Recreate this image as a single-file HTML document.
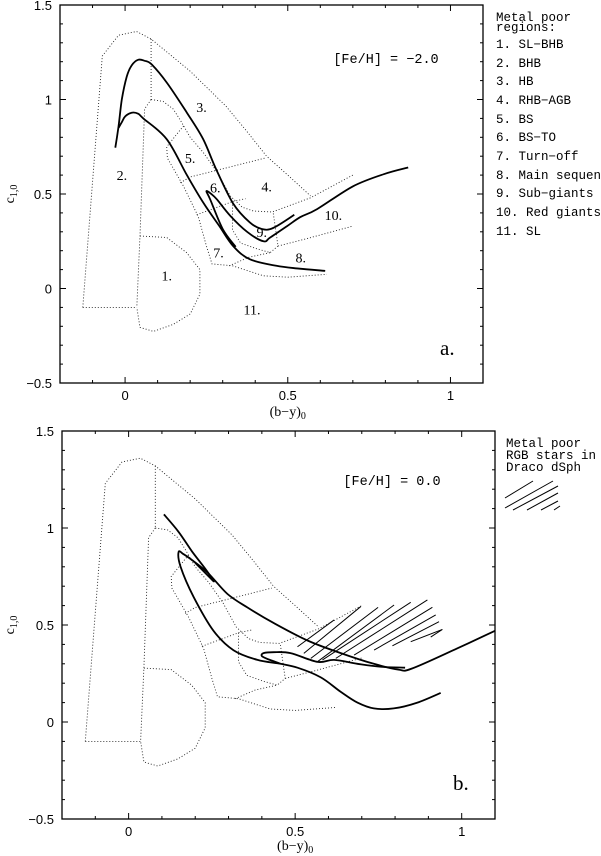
<!DOCTYPE html>
<html><head><meta charset="utf-8">
<style>
html,body{margin:0;padding:0;background:#fff;}
svg{display:block;}
.tick{font-family:"Liberation Sans",sans-serif;font-size:13px;fill:#000;}
.mono{font-family:"Liberation Mono",monospace;font-size:12.5px;fill:#000;}
.lab{font-family:"Liberation Serif",serif;font-size:14px;fill:#000;}
</style></head>
<body>
<svg id="fig" width="601" height="856" viewBox="0 0 601 856" xmlns="http://www.w3.org/2000/svg">
<g id="pa"></g>
<g id="pb"></g>
<g>
<text class="mono" x="496" y="21">Metal poor</text>
<text class="mono" x="496" y="31">regions:</text>
<text class="mono" x="496" y="48">1. SL−BHB</text>
<text class="mono" x="496" y="67">2. BHB</text>
<text class="mono" x="496" y="85">3. HB</text>
<text class="mono" x="496" y="104">4. RHB−AGB</text>
<text class="mono" x="496" y="123">5. BS</text>
<text class="mono" x="496" y="141">6. BS−TO</text>
<text class="mono" x="496" y="160">7. Turn−off</text>
<text class="mono" x="496" y="179">8. Main sequence</text>
<text class="mono" x="496" y="197">9. Sub−giants</text>
<text class="mono" x="496" y="216">10. Red giants</text>
<text class="mono" x="496" y="235">11. SL</text>
</g>
<g>
<text class="mono" x="506" y="447">Metal poor</text>
<text class="mono" x="506" y="459">RGB stars in</text>
<text class="mono" x="506" y="471">Draco dSph</text>
<g stroke="#000" stroke-width="1">
<line x1="505" y1="498" x2="533" y2="481"/><line x1="505" y1="508" x2="553" y2="481"/>
<line x1="513" y1="510" x2="558" y2="486"/><line x1="527" y1="510" x2="558" y2="493"/>
<line x1="541" y1="510" x2="558" y2="501"/><line x1="554" y1="510" x2="560" y2="506"/>
</g>
</g>
</svg>
<script>
const NS="http://www.w3.org/2000/svg";
const xTickLabels=["0","0.5","1"];
const xTickValues=[0,0.5,1];
const yTickLabels=["1.5","1","0.5","0","−0.5"];
const yTickValues=[1.5,1,0.5,0,-0.5];
const regionOuter=[[-0.13,-0.1],[-0.07,1.23],[-0.02,1.34],[0.035,1.36],[0.08,1.32],[0.2,1.15],[0.31,0.965],[0.37,0.84],[0.435,0.70],[0.5,0.6],[0.57,0.49]];
const regionDiv23=[[0.08,1.32],[0.08,1.0]];
const regionInnerUpper=[[0.08,1.0],[0.117,0.99],[0.148,0.95],[0.17,0.89],[0.2,0.80],[0.24,0.72],[0.283,0.615],[0.323,0.49],[0.36,0.43],[0.394,0.41],[0.452,0.405],[0.57,0.48],[0.70,0.6]];
const regionInnerLeft=[[0.08,1.0],[0.06,0.95],[0.046,0.28],[0.036,-0.1]];
const regionBottom2=[[-0.13,-0.1],[0.036,-0.1]];
const region1=[[0.046,0.278],[0.128,0.27],[0.189,0.19],[0.23,0.10],[0.23,-0.03],[0.2,-0.135],[0.148,-0.19],[0.087,-0.227],[0.046,-0.206],[0.036,-0.1]];
const region5Left=[[0.18,0.86],[0.17,0.84],[0.128,0.75],[0.13,0.69],[0.18,0.54],[0.225,0.38],[0.25,0.225],[0.267,0.13],[0.33,0.12],[0.425,0.067],[0.5,0.06],[0.62,0.075]];
const regionDiv56=[[0.17,0.56],[0.2,0.59],[0.43,0.69]];
const regionDiv67=[[0.22,0.39],[0.33,0.46],[0.37,0.475]];
const regionDiv79=[[0.33,0.46],[0.33,0.31],[0.355,0.24],[0.405,0.21],[0.446,0.19],[0.47,0.225],[0.455,0.405]];
const region8Top=[[0.32,0.12],[0.38,0.165],[0.446,0.19]];
const region10Low=[[0.47,0.225],[0.55,0.26],[0.70,0.33]];
const regions=[regionOuter,regionDiv23,regionInnerUpper,regionInnerLeft,regionBottom2,region1,region5Left,regionDiv56,regionDiv67,regionDiv79,region8Top,region10Low];
const regionLabels=["1.","2.","3.","4.","5.","6.","7.","8.","9.","10.","11."];
const regionLabelPos=[[0.128,0.07],[-0.01,0.6],[0.235,0.96],[0.435,0.54],[0.2,0.69],[0.277,0.535],[0.287,0.19],[0.54,0.165],[0.42,0.30],[0.64,0.39],[0.39,-0.11]];
const isoA1=[[-0.03,0.745],[-0.02,0.86],[-0.01,1.0],[0.005,1.12],[0.02,1.18],[0.04,1.21],[0.06,1.205],[0.082,1.185],[0.128,1.09],[0.19,0.93],[0.24,0.79],[0.28,0.63],[0.332,0.45],[0.383,0.35],[0.42,0.315],[0.455,0.32],[0.52,0.39]];
const isoA2=[[-0.02,0.85],[-0.01,0.88],[0.0,0.91],[0.02,0.93],[0.04,0.925],[0.056,0.9],[0.128,0.79],[0.19,0.6],[0.24,0.455],[0.29,0.33],[0.332,0.225],[0.383,0.155],[0.465,0.12],[0.537,0.105],[0.615,0.093]];
const isoA3=[[0.34,0.22],[0.30,0.315],[0.262,0.47],[0.25,0.515],[0.265,0.50],[0.283,0.47],[0.323,0.385],[0.375,0.30],[0.425,0.25],[0.446,0.27],[0.498,0.33],[0.538,0.377],[0.59,0.42],[0.70,0.54],[0.795,0.605],[0.87,0.64]];
const isoB1=[[0.106,1.07],[0.15,0.98],[0.19,0.88],[0.23,0.79],[0.256,0.725],[0.235,0.76],[0.2,0.82]];
const isoB2=[[0.937,0.15],[0.867,0.10],[0.796,0.07],[0.736,0.07],[0.687,0.10],[0.637,0.155],[0.577,0.23],[0.507,0.28],[0.456,0.30],[0.387,0.32],[0.315,0.37],[0.255,0.47],[0.195,0.645],[0.156,0.80],[0.15,0.877],[0.165,0.865],[0.186,0.84],[0.237,0.77],[0.297,0.66],[0.357,0.59],[0.436,0.51],[0.537,0.42],[0.637,0.355],[0.736,0.30],[0.81,0.27],[0.85,0.275],[0.987,0.38],[1.1,0.47]];
const isoB3=[[0.83,0.28],[0.757,0.285],[0.687,0.30],[0.617,0.32],[0.567,0.31],[0.486,0.355],[0.436,0.36],[0.405,0.355],[0.40,0.34],[0.417,0.325],[0.456,0.30]];
const hatchSegs=[[0.507,0.388,0.617,0.526],[0.526,0.354,0.697,0.595],[0.547,0.328,0.749,0.591],[0.567,0.311,0.797,0.603],[0.582,0.320,0.847,0.617],[0.622,0.328,0.897,0.629],[0.677,0.345,0.912,0.591],[0.737,0.371,0.922,0.552],[0.792,0.393,0.932,0.517],[0.847,0.414,0.942,0.477],[0.907,0.438,0.942,0.477]];

function mk(parent,tag,attrs){const e=document.createElementNS(NS,tag);for(const k in attrs)e.setAttribute(k,attrs[k]);parent.appendChild(e);return e;}
function smooth(P){
  let d="M"+P[0][0].toFixed(1)+","+P[0][1].toFixed(1);
  for(let i=0;i<P.length-1;i++){
    const p0=P[i-1]||P[i],p1=P[i],p2=P[i+1],p3=P[i+2]||P[i+1];
    const c1=[p1[0]+(p2[0]-p0[0])/6,p1[1]+(p2[1]-p0[1])/6];
    const c2=[p2[0]-(p3[0]-p1[0])/6,p2[1]-(p3[1]-p1[1])/6];
    d+=" C"+c1[0].toFixed(1)+","+c1[1].toFixed(1)+" "+c2[0].toFixed(1)+","+c2[1].toFixed(1)+" "+p2[0].toFixed(1)+","+p2[1].toFixed(1);
  }
  return d;
}
function panel(g,L,R,T,B,opts){
  const xs=v=>L+(v-(-0.2))/(1.3)*(R-L);
  const ys=v=>T+(1.5-v)/2*(B-T);
  regions.forEach((r)=>{
    const p=mk(g,"polyline",{points:r.map(q=>xs(q[0]).toFixed(1)+","+ys(q[1]).toFixed(1)).join(" "),fill:"none",stroke:"#222","stroke-width":"0.9","stroke-dasharray":"1 2"});
    
    
  });
  if(opts.labels){
    regionLabels.forEach((t,i)=>{
      const e=mk(g,"text",{x:xs(regionLabelPos[i][0]),y:ys(regionLabelPos[i][1])+5,"text-anchor":"middle",class:"lab"});
      e.textContent=t;
      
      
    });
  }
  if(opts.hatch){
    hatchSegs.forEach(s=>{
      const e=mk(g,"line",{x1:xs(s[0]),y1:ys(s[1]),x2:xs(s[2]),y2:ys(s[3]),stroke:"#000","stroke-width":"1"});
      
      
    });
  }
  opts.curves.forEach(c=>{
    const p=mk(g,"path",{d:smooth(c.map(q=>[xs(q[0]),ys(q[1])])),fill:"none",stroke:"#000","stroke-width":"1.8","stroke-linejoin":"round"});
    
    
  });
  const f=mk(g,"rect",{x:L,y:T,width:R-L,height:B-T,fill:"none",stroke:"#000","stroke-width":"1.3"});
  
  
  for(let i=-2;i<=11;i++){
    const v=i/10,x=xs(v),maj=(i%5===0),len=maj?6:3;
    mk(g,"line",{x1:x,y1:B,x2:x,y2:B-len,stroke:"#000","stroke-width":"1"});
    mk(g,"line",{x1:x,y1:T,x2:x,y2:T+len,stroke:"#000","stroke-width":"1"});
  }
  for(let i=-5;i<=15;i++){
    const v=i/10,y=ys(v),maj=(i%5===0),len=maj?6:3;
    mk(g,"line",{x1:L,y1:y,x2:L+len,y2:y,stroke:"#000","stroke-width":"1"});
    mk(g,"line",{x1:R,y1:y,x2:R-len,y2:y,stroke:"#000","stroke-width":"1"});
  }
  xTickLabels.forEach((t,i)=>{
    const e=mk(g,"text",{x:xs(xTickValues[i]),y:B+opts.xlab,"text-anchor":"middle",class:"tick"});
    e.textContent=t;
    
    
  });
  yTickLabels.forEach((t,i)=>{
    const e=mk(g,"text",{x:L-8,y:ys(yTickValues[i])+5,"text-anchor":"end",class:"tick"});
    e.textContent=t;
    
    
  });
  const xt=mk(g,"text",{x:xs(0.5),y:B+opts.xtitle,"text-anchor":"middle",class:"lab"});
  xt.innerHTML='(b−y)<tspan style="font-size:10px" dy="3">0</tspan>';
  
  
  const yt=mk(g,"text",{x:0,y:0,"text-anchor":"middle",class:"lab",transform:"translate(14,"+ys(0.5)+") rotate(-90)"});
  yt.innerHTML='c<tspan style="font-size:10px" dy="3">1,0</tspan>';
  
  
  const fe=mk(g,"text",{x:opts.feX,y:T+opts.feY,"text-anchor":"middle",class:"mono",style:"font-size:13.5px"});
  fe.textContent=opts.fe;
  
  
  const pl=mk(g,"text",{x:opts.plX,y:opts.plY,class:"lab",style:"font-size:21px"});
  pl.textContent=opts.pl;
  
  
}
panel(document.getElementById("pa"),60,483,5,383,{labels:true,hatch:false,curves:[isoA1,isoA2,isoA3],xlab:17,xtitle:33,fe:"[Fe/H] = −2.0",feX:386,feY:58,pl:"a.",plX:440,plY:355});
panel(document.getElementById("pb"),62,495,431,819,{labels:false,hatch:true,curves:[isoB1,isoB2,isoB3],xlab:17,xtitle:31,fe:"[Fe/H] = 0.0",feX:392,feY:54,pl:"b.",plX:453,plY:790});
</script>
</body></html>
